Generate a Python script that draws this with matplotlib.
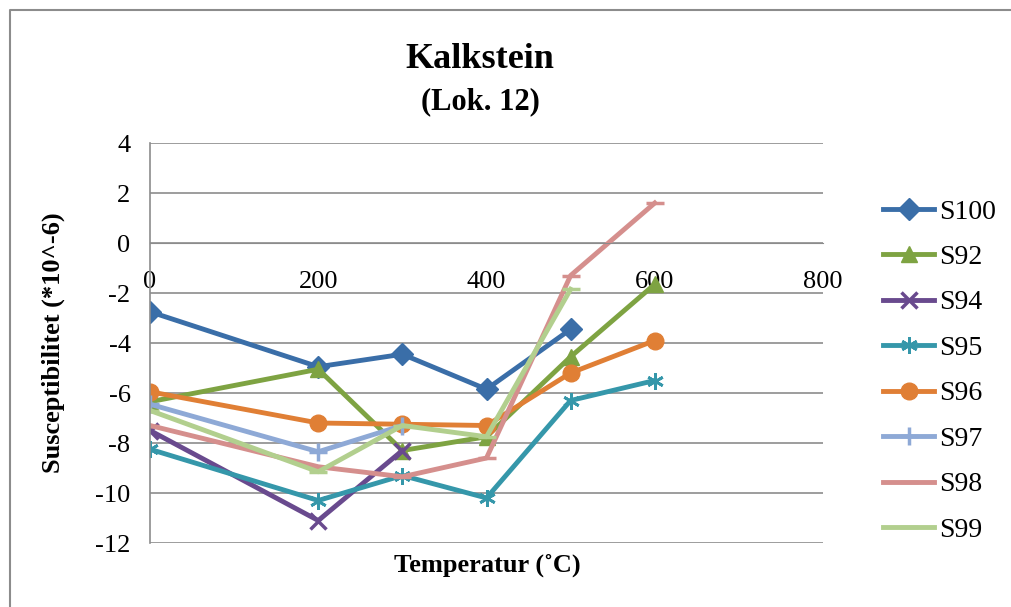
import matplotlib.pyplot as plt
from matplotlib.lines import Line2D

plt.rcParams['font.family'] = ['Liberation Serif', 'DejaVu Serif']
plt.rcParams['axes.unicode_minus'] = False

# temperatures (C) and susceptibility (*10^-6) per sample
temp_s100 = [0, 200, 300, 400, 500]
s100 = [-2.75, -4.95, -4.45, -5.85, -3.45]
temp_s92 = [0, 200, 300, 400, 500, 600]
s92 = [-6.35, -5.05, -8.3, -7.75, -4.55, -1.65]
temp_s94 = [0, 200, 300]
s94 = [-7.5, -11.1, -8.3]
temp_s95 = [0, 200, 300, 400, 500, 600]
s95 = [-8.25, -10.3, -9.3, -10.2, -6.3, -5.5]
temp_s96 = [0, 200, 300, 400, 500, 600]
s96 = [-5.95, -7.2, -7.25, -7.3, -5.2, -3.9]
temp_s97 = [0, 200, 300]
s97 = [-6.45, -8.35, -7.3]
temp_s98 = [0, 200, 300, 400, 500, 600]
s98 = [-7.3, -8.95, -9.35, -8.6, -1.3, 1.6]
temp_s99 = [0, 200, 300, 400, 500]
s99 = [-6.7, -9.15, -7.3, -7.75, -1.85]

series = [
    ("S100", temp_s100, s100, "#3a6ea8", "D", 11),
    ("S92", temp_s92, s92, "#7ea342", "^", 12),
    ("S94", temp_s94, s94, "#694a8e", "x", 12),
    ("S95", temp_s95, s95, "#3597aa", "*", 12),
    ("S96", temp_s96, s96, "#e07f35", "o", 12),
    ("S97", temp_s97, s97, "#8ea9d6", "+", 13),
    ("S98", temp_s98, s98, "#d58f8d", "_", 13),
    ("S99", temp_s99, s99, "#b2cf8e", "_", 13),
]

fig = plt.figure(figsize=(10.12, 6.07), dpi=100)
ax = fig.add_axes([150 / 1012, 1 - 543 / 607, (823 - 150) / 1012, 400 / 607])

for name, xs, ys, col, mk, ms in series:
    if mk == "*":
        ax.plot(xs, ys, color=col, linewidth=3.5, marker=(6, 2, 0), markersize=ms,
                markeredgewidth=2, markeredgecolor=col, label=name)
    elif mk in ("x", "+", "_"):
        ax.plot(xs, ys, color=col, linewidth=3.5, marker=mk, markersize=ms,
                markeredgewidth=2.5, markeredgecolor=col, label=name)
    else:
        ax.plot(xs, ys, color=col, linewidth=3.5, marker=mk, markersize=ms,
                markeredgecolor=col, label=name)

ax.set_xlim(0, 800)
ax.set_ylim(-12, 4)
ax.set_xticks([0, 200, 400, 600, 800])
ax.set_yticks(range(-12, 5, 2))
ax.grid(axis='y', color='#8c8c8c', linewidth=1.2)
ax.set_axisbelow(True)
for s in ['top', 'right']:
    ax.spines[s].set_visible(False)
ax.spines['bottom'].set_position(('data', 0))
ax.spines['bottom'].set_color('#8c8c8c')
ax.spines['left'].set_color('#8c8c8c')
ax.spines['left'].set_linewidth(1.2)
ax.tick_params(axis='both', length=0, labelsize=19)
ax.tick_params(axis='y', pad=14)
ax.tick_params(axis='x', pad=20)

ax.set_ylabel("Susceptibilitet (*10^-6)", fontsize=19, fontweight='bold', labelpad=22)
fig.text(487 / 1012, 1 - 565 / 607, "Temperatur (˚C)", fontsize=19, fontweight='bold',
         ha='center', va='center')
fig.text(480 / 1012, 1 - 60 / 607, "Kalkstein", fontsize=26, fontweight='bold',
         ha='center', va='center')
fig.text(480 / 1012, 1 - 102 / 607, "(Lok. 12)", fontsize=22, fontweight='bold',
         ha='center', va='center')

fig.legend(loc='upper left', bbox_to_anchor=(872 / 1012, 1 - 188 / 607), frameon=False,
           fontsize=20, handlelength=1.85, handletextpad=0.15, labelspacing=0.72,
           borderaxespad=0)

# chart frame: only top and left edges visible in the crop
fig.add_artist(Line2D([10 / 1012, 10 / 1012, 1], [0, 1 - 10 / 607, 1 - 10 / 607],
                      transform=fig.transFigure, color='#8c8c8c', linewidth=1.5))

fig.savefig("out.png", dpi=100)
